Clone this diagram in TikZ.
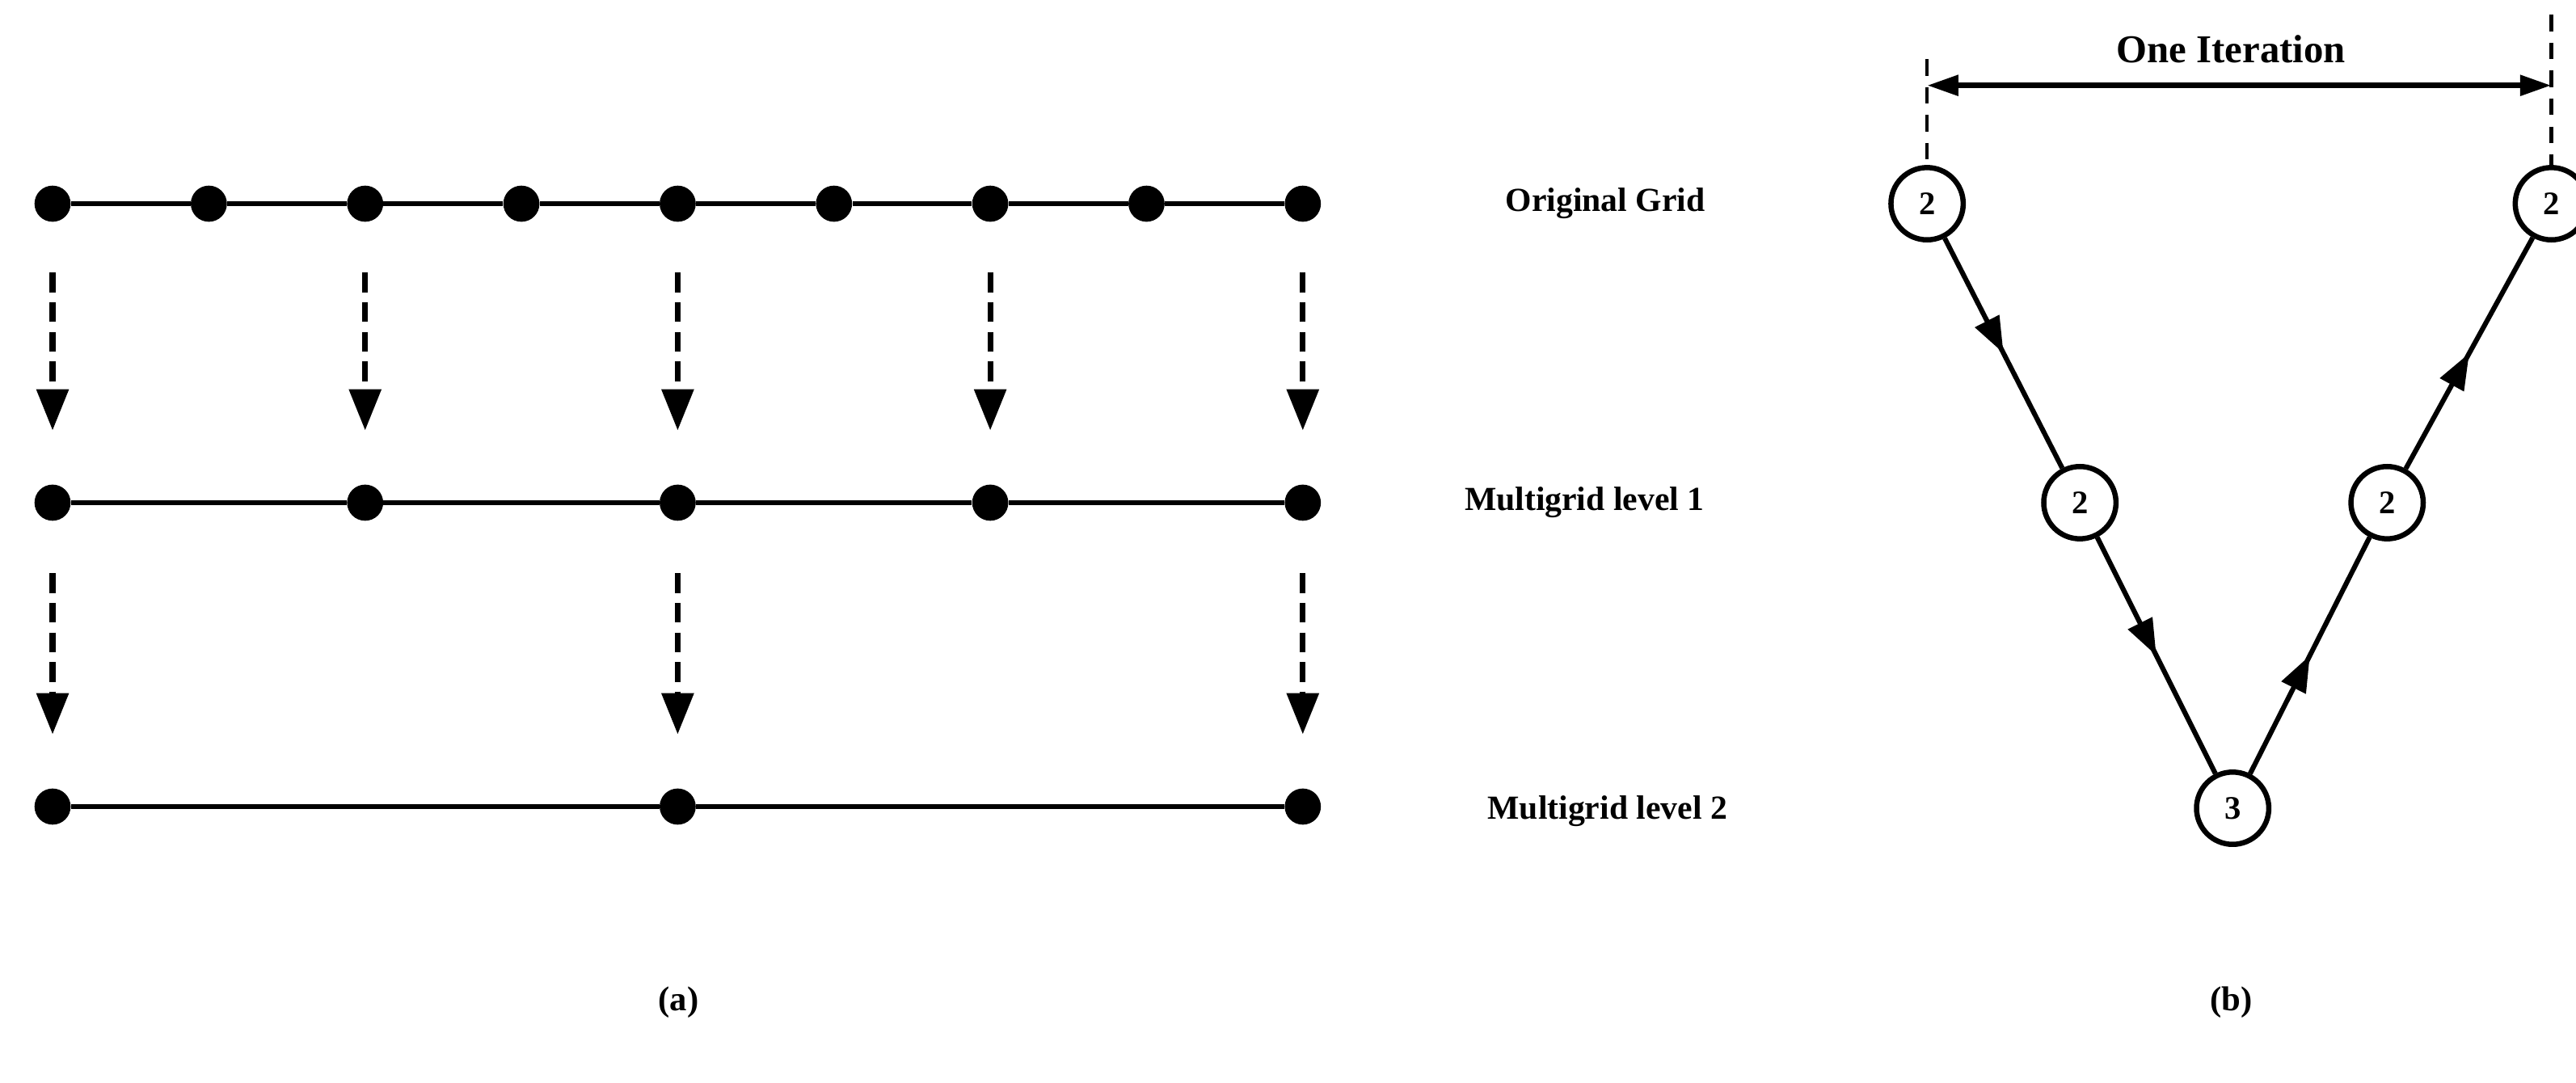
\documentclass[tikz,border=0pt]{standalone}
\usepackage{fontspec}
\setmainfont{Liberation Serif}
\usetikzlibrary{arrows.meta,decorations.markings,calc}

\begin{document}
\begin{tikzpicture}[x=1pt,y=-1pt,
  gridpt/.style={circle,fill=black,inner sep=0pt,minimum size=22pt},
  gridline/.style={line width=3pt},
  restrict/.style={line width=3.5pt,dash pattern=on 12pt off 6pt,
    -{Triangle[length=25pt,width=19pt]}},
  lbl/.style={font=\fontsize{20.5}{24}\selectfont\bfseries,anchor=west},
  subcap/.style={font=\fontsize{21}{24}\selectfont\bfseries},
  vnode/.style={circle,draw,line width=3.2pt,minimum size=44pt,inner sep=0pt,
    font=\fontsize{20}{22}\selectfont\bfseries},
  vedge/.style={line width=3pt,
    decoration={markings,mark=at position #1 with {\arrow{Triangle[length=22pt,width=16pt]}}},
    postaction={decorate}},
  guide/.style={line width=2.2pt,dash pattern=on 10pt off 7pt},
  span/.style={line width=3.5pt,{Triangle[length=19pt,width=12pt]}-{Triangle[length=19pt,width=12pt]}}
]
\useasboundingbox (0,0) rectangle (1568,659);

% ---------- (a) grid hierarchy ----------
\foreach \i in {0,...,8}
  \node[gridpt] (g0-\i) at ({32+95.125*\i},124) {};
\foreach \i [count=\j from 0] in {0,2,4,6,8}
  \node[gridpt] (g1-\j) at ({32+95.125*\i},306) {};
\foreach \i [count=\j from 0] in {0,4,8}
  \node[gridpt] (g2-\j) at ({32+95.125*\i},491) {};

\foreach \i [remember=\i as \p (initially 0)] in {1,...,8}
  \draw[gridline] (g0-\p) -- (g0-\i);
\foreach \i [remember=\i as \p (initially 0)] in {1,...,4}
  \draw[gridline] (g1-\p) -- (g1-\i);
\foreach \i [remember=\i as \p (initially 0)] in {1,2}
  \draw[gridline] (g2-\p) -- (g2-\i);

% restriction arrows between levels
\foreach \j in {0,...,4}{
  \coordinate (ra-\j) at ($(g1-\j)+(0,-140)$);
  \coordinate (rb-\j) at ($(g1-\j)+(0,-44)$);
}
\foreach \j in {0,...,2}{
  \coordinate (sa-\j) at ($(g2-\j)+(0,-142)$);
  \coordinate (sb-\j) at ($(g2-\j)+(0,-44)$);
}
\foreach \j in {0,...,4} \draw[restrict] (ra-\j) -- (rb-\j);
\foreach \j in {0,...,2} \draw[restrict] (sa-\j) -- (sb-\j);

\node[lbl] (l0) at (913,124) {Original Grid};
\node[lbl] (l1) at (888,306) {Multigrid level 1};
\node[lbl] (l2) at (902,494) {Multigrid level 2};

\node[subcap] (capa) at (413,610) {(a)};

% ---------- (b) V-cycle ----------
\node[vnode] (t1) at (1173,124) {2};
\node[vnode] (m1) at (1266,306) {2};
\node[vnode] (bt) at (1359,492) {3};
\node[vnode] (m2) at (1453,306) {2};
\node[vnode] (t2) at (1553,124) {2};

\draw[vedge=0.5] (t1) -- (m1);
\draw[vedge=0.5] (m1) -- (bt);
\draw[vedge=0.5] (bt) -- (m2);
\draw[vedge=0.5] (m2) -- (t2);

\coordinate (d1) at (1173,36);
\coordinate (d2) at (1553,9);
\draw[guide] (d1) -- (t1.north);
\draw[guide] (d2) -- (t2.north);
\coordinate (s1) at (1173,52);
\coordinate (s2) at (1553,52);
\draw[span] (s1) -- (s2);
\node[font=\fontsize{24}{28}\selectfont\bfseries] (it) at (1358,30) {One Iteration};

\node[subcap] (capb) at (1358,610) {(b)};
\end{tikzpicture}
\end{document}
